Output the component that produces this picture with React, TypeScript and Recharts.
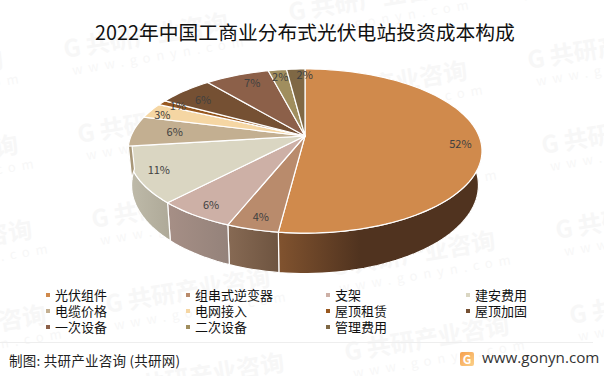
import { PieChart, Pie, Legend } from 'recharts';

const categories = ['光伏组件', '组串式逆变器', '支架', '建安费用', '电缆价格', '电网接入', '屋顶租赁', '屋顶加固', '一次设备', '二次设备', '管理费用'];
const values = [52, 4, 6, 11, 6, 3, 1, 6, 7, 2, 2];
const colors = ['#D08A4C', '#B98B6C', '#CDB0A6', '#DAD6C2', '#C3AF91', '#F5D6A3', '#98581F', '#755033', '#8C6049', '#A08E5E', '#7F6845'];
// side wall shades, left to right (only the front slices show a wall)
const wallLeft = ['#81532F', '#876A54', '#A68F86', '#BFBBAA', '#A89778', '#CFB58A', '#7F4A1A', '#5E4029', '#70503C', '#85764E', '#6A573A'];
const wallRight = ['#50331F', '#6E5440', '#94827A', '#AEA998', '#A89778', '#CFB58A', '#7F4A1A', '#5E4029', '#70503C', '#85764E', '#6A573A'];

const data = categories.map((name, i) => ({ name, value: values[i], fill: colors[i] }));

// hand placed percent labels, offset from the computed spot
const labelShift = [[1, 1], [1, -2], [1, -2], [1, -3], [21, -3], [-6, -2], [0, -3], [5, 1], [8, -2], [0, -3], [8, -4]];

const marks = [
  [65, 58], [290, 21], [515, -16], [-160, 95],
  [-145, 180], [79, 143], [304, 106], [529, 69],
  [-131, 265], [93, 228], [318, 191], [543, 154],
  [-117, 350], [107, 313], [332, 276], [557, 239],
  [121, 398], [346, 361], [571, 324],
];

const FONT = '"Noto Sans CJK SC", "Noto Sans", sans-serif';

// perspective of the tilted pie
const TILT = 0.183;
const SQUASH = 0.456;
const DEPTH = 33;

function project(r: number, deg: number, f = 1) {
  const t = ((90 - deg) * Math.PI) / 180;
  const u = Math.sin(t) * f;
  const v = -Math.cos(t) * f;
  const w = 1 - TILT * v;
  return { x: (r * u) / w, y: (r * SQUASH * v) / w, w };
}

function topPoint(cx: number, cy: number, r: number, deg: number, f = 1) {
  const p = project(r, deg, f);
  return [cx + p.x, cy + p.y];
}

function lowPoint(cx: number, cy: number, r: number, deg: number) {
  const p = project(r, deg);
  return [cx + p.x * 0.98, cy + p.y + DEPTH / p.w];
}

function Slice(props: any) {
  const { cx, cy, outerRadius, startAngle, endAngle, fill, index, name } = props;
  const i = index ?? categories.indexOf(name ?? props.payload?.name);
  const steps = Math.max(2, Math.ceil(Math.abs(endAngle - startAngle) / 2));
  const rim: number[][] = [];
  for (let s = 0; s <= steps; s++) {
    rim.push(topPoint(cx, cy, outerRadius, startAngle + ((endAngle - startAngle) * s) / steps));
  }
  const top = `M${cx},${cy} ` + rim.map((p) => `L${p[0]},${p[1]}`).join(' ') + ' Z';

  // wall shows only on the front half, angles 0 to -180 going clockwise
  const a = Math.min(startAngle, 0);
  const b = Math.max(endAngle, -180);
  let wall = null;
  if (a > b) {
    const n = Math.max(2, Math.ceil((a - b) / 2));
    const upper: number[][] = [];
    const lower: number[][] = [];
    for (let s = 0; s <= n; s++) {
      const d = a + ((b - a) * s) / n;
      upper.push(topPoint(cx, cy, outerRadius, d));
      lower.push(lowPoint(cx, cy, outerRadius, d));
    }
    const pts = [...upper, ...lower.reverse()];
    wall = (
      <>
        <defs>
          <linearGradient id={`wall-${i}`} x1="1" y1="0" x2="0" y2="0">
            <stop offset="0" stopColor={wallRight[i]} />
            <stop offset={i === 0 ? 0.6 : 1} stopColor={wallRight[i]} stopOpacity={i === 0 ? 1 : 0} />
            <stop offset="1" stopColor={wallLeft[i]} />
          </linearGradient>
        </defs>
        <path d={'M' + pts.map((p) => `${p[0]},${p[1]}`).join(' L') + ' Z'} fill={wallLeft[i]} />
        <path d={'M' + pts.map((p) => `${p[0]},${p[1]}`).join(' L') + ' Z'} fill={`url(#wall-${i})`} stroke="#fff" strokeWidth={1.2} />
      </>
    );
  }
  return (
    <g>
      {wall}
      <path d={top} fill={fill} stroke="#fff" strokeWidth={1.2} strokeLinejoin="round" />
    </g>
  );
}

function SliceLabel(props: any) {
  const { cx, cy, outerRadius, midAngle, value, index } = props;
  const [x, y] = topPoint(cx, cy, outerRadius, midAngle, 0.88);
  const [dx, dy] = labelShift[index];
  return (
    <text x={x + dx} y={y + 2 + dy} textAnchor="middle" dominantBaseline="central" fontSize={11} fontFamily={FONT} fill="#404040">
      {value}%
    </text>
  );
}

function LegendGrid({ payload }: any) {
  return (
    <div style={{ display: 'grid', gridTemplateColumns: 'repeat(4, 140px)', gridAutoRows: 16, fontFamily: FONT, fontSize: 13, color: '#111' }}>
      {(payload || []).map((item: any) => (
        <div key={item.value} style={{ display: 'flex', alignItems: 'center', lineHeight: '16px' }}>
          <span style={{ width: 4, height: 4, background: item.color, marginRight: 5 }} />
          <span>{item.value}</span>
        </div>
      ))}
    </div>
  );
}

export default function App() {
  return (
    <div style={{ position: 'absolute', left: 0, top: 0, width: 604, height: 376, background: '#fff', overflow: 'hidden', fontFamily: FONT }}>
      {marks.map(([x, y]) => (
        <div key={`${x}-${y}`} style={{ position: 'absolute', left: x, top: y - 24, whiteSpace: 'nowrap', color: '#f7f7f7', transform: 'rotate(-9.5deg)', transformOrigin: '0 24px' }}>
          <div style={{ fontSize: 24, fontWeight: 700, lineHeight: '28px' }}>G 共研产业咨询</div>
          <div style={{ fontSize: 13, letterSpacing: 6, lineHeight: '18px', marginLeft: 5 }}>www.gonyn.com</div>
        </div>
      ))}
      <div style={{ position: 'absolute', left: 0, top: 18, width: 610, textAlign: 'center', fontSize: 19.8, lineHeight: '28px', color: '#111' }}>
        2022年中国工商业分布式光伏电站投资成本构成
      </div>
      <div style={{ position: 'absolute', left: 0, top: 0 }}>
        <PieChart width={604} height={376} margin={{ top: 0, right: 0, bottom: 0, left: 0 }}>
          <Pie
            data={data}
            dataKey="value"
            nameKey="name"
            cx={305}
            cy={136}
            innerRadius={0}
            outerRadius={174}
            startAngle={90}
            endAngle={-270}
            shape={Slice}
            label={SliceLabel}
            labelLine={false}
            isAnimationActive={false}
          />
          <Legend
            content={LegendGrid}
            itemSorter={null}
            wrapperStyle={{ position: 'absolute', left: 46, top: 287, width: 560, height: 48, bottom: 'auto' }}
          />
        </PieChart>
      </div>
      <div style={{ position: 'absolute', left: 0, top: 342, width: 593, height: 1, background: '#eeeeee' }} />
      <div style={{ position: 'absolute', left: 9, top: 351, fontSize: 13.5, lineHeight: '18px', color: '#222', whiteSpace: 'pre', letterSpacing: 0.25 }}>
        制图: 共研产业咨询 (共研网)
      </div>
      <div style={{ position: 'absolute', left: 460, top: 352, width: 14, height: 14, borderRadius: 2, background: 'linear-gradient(135deg, #f6a04d, #fbd08a)', color: '#fff', fontSize: 12, fontWeight: 700, lineHeight: '14px', textAlign: 'center' }}>
        G
      </div>
      <div style={{ position: 'absolute', left: 482, top: 347, fontSize: 15.2, lineHeight: '20px', color: '#333', fontFamily: '"Open Sans", sans-serif' }}>
        www.gonyn.com
      </div>
    </div>
  );
}
